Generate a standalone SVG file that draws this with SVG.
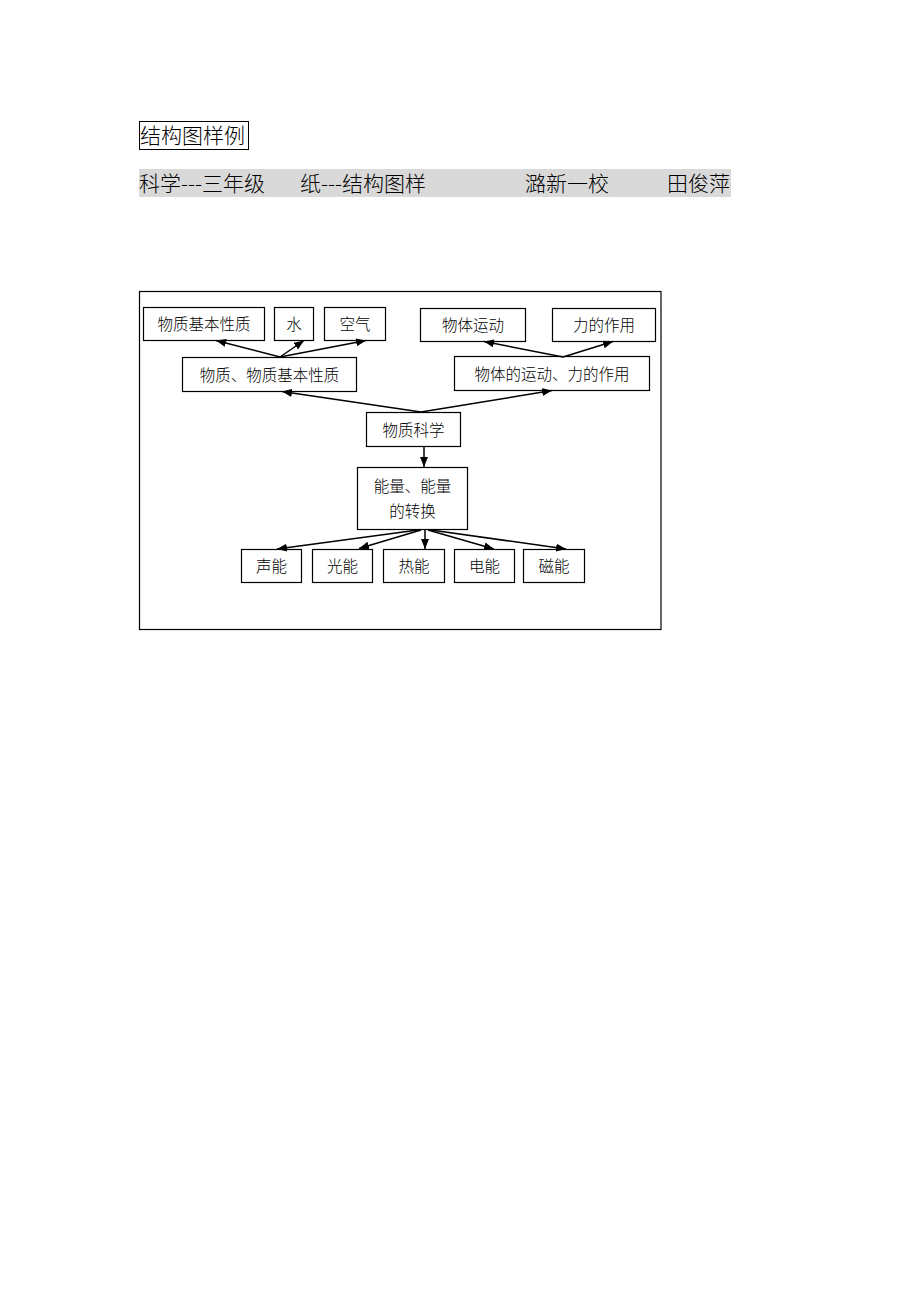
<svg xmlns="http://www.w3.org/2000/svg" width="920" height="1302" viewBox="0 0 920 1302">
<style>
.box{fill:#fff;stroke:#000;stroke-width:1.2}
.t{font-family:"Noto Sans CJK SC","Liberation Sans",sans-serif;font-size:15.5px;font-weight:300;fill:#000;text-anchor:middle}
.h{font-family:"Noto Sans CJK SC","Liberation Sans",sans-serif;font-size:21px;font-weight:300;fill:#000}
.c{stroke:#000;stroke-width:1.5;fill:none;marker-end:url(#ah)}
</style>
<defs>
<marker id="ah" viewBox="0 0 10 8" refX="10" refY="4" markerWidth="10" markerHeight="8" markerUnits="userSpaceOnUse" orient="auto">
<path d="M0,0 L10,4 L0,8 Z" fill="#000"/>
</marker>
</defs>
<rect width="920" height="1302" fill="#fff"/>
<g id="title">
<rect x="139.5" y="121.5" width="109" height="28" fill="#fff" stroke="#000" stroke-width="1"/>
<text class="h" x="140" y="143">结构图样例</text>
</g>
<g id="header">
<rect x="139" y="169" width="592" height="28" fill="#d9d9d9"/>
<text class="h" x="139" y="191">科学---三年级</text>
<text class="h" x="300" y="191">纸---结构图样</text>
<text class="h" x="525" y="191">潞新一校</text>
<text class="h" x="667" y="191">田俊萍</text>
</g>
<g id="frame">
<rect x="139.5" y="291.5" width="521.5" height="338" fill="none" stroke="#000" stroke-width="1.2"/>
</g>
<g id="n1"><rect class="box" x="143.5" y="307.5" width="121" height="33"/><text class="t" x="204" y="330">物质基本性质</text></g>
<g id="n2"><rect class="box" x="274.5" y="307.5" width="39" height="33"/><text class="t" x="294" y="330">水</text></g>
<g id="n3"><rect class="box" x="324.5" y="307.5" width="61" height="33"/><text class="t" x="355" y="330">空气</text></g>
<g id="n4"><rect class="box" x="420.5" y="308.5" width="105" height="33"/><text class="t" x="473" y="331">物体运动</text></g>
<g id="n5"><rect class="box" x="552.5" y="308.5" width="103" height="33"/><text class="t" x="604" y="331">力的作用</text></g>
<g id="n6"><rect class="box" x="182.5" y="357.5" width="174" height="34"/><text class="t" x="269.5" y="380.5">物质、物质基本性质</text></g>
<g id="n7"><rect class="box" x="454.5" y="356.5" width="195" height="34"/><text class="t" x="552" y="379.5">物体的运动、力的作用</text></g>
<g id="n8"><rect class="box" x="366.5" y="412.5" width="94" height="34"/><text class="t" x="413.5" y="435.5">物质科学</text></g>
<g id="n9"><rect class="box" x="357.5" y="467.5" width="110" height="62"/><text class="t" x="412.5" y="492">能量、能量</text><text class="t" x="412.5" y="516.5">的转换</text></g>
<g id="n10"><rect class="box" x="241.5" y="549.5" width="60" height="33"/><text class="t" x="271.5" y="572">声能</text></g>
<g id="n11"><rect class="box" x="312.5" y="549.5" width="60" height="33"/><text class="t" x="342.5" y="572">光能</text></g>
<g id="n12"><rect class="box" x="383.5" y="549.5" width="61" height="33"/><text class="t" x="414" y="572">热能</text></g>
<g id="n13"><rect class="box" x="454.5" y="549.5" width="60" height="33"/><text class="t" x="484.5" y="572">电能</text></g>
<g id="n14"><rect class="box" x="523.5" y="549.5" width="61" height="33"/><text class="t" x="554" y="572">磁能</text></g>
<g id="connectors">
<line class="c" x1="280" y1="357" x2="216" y2="340.5"/>
<line class="c" x1="280" y1="357" x2="304" y2="340.5"/>
<line class="c" x1="280" y1="357" x2="366" y2="340.5"/>
<line class="c" x1="563" y1="357" x2="484" y2="341.5"/>
<line class="c" x1="563" y1="357" x2="613" y2="341.5"/>
<line class="c" x1="421" y1="412" x2="282" y2="391.5"/>
<line class="c" x1="421" y1="412" x2="552" y2="390.5"/>
<line class="c" x1="424" y1="446" x2="424" y2="467"/>
<line class="c" x1="418" y1="530" x2="277" y2="549"/>
<line class="c" x1="421" y1="530" x2="359" y2="548.5"/>
<line class="c" x1="425" y1="530" x2="425" y2="549"/>
<line class="c" x1="428" y1="530" x2="494" y2="549"/>
<line class="c" x1="431" y1="530" x2="566" y2="549"/>
</g>
</svg>
